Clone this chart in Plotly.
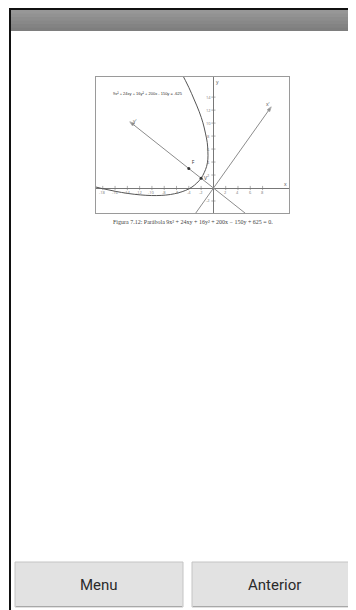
import plotly.graph_objects as go

# the page body has an 8px margin, so the figure is a bit smaller and shifted
OFF = 8
W, H = 356 - OFF, 610 - OFF

# parabola 9x^2 + 24xy + 16y^2 + 200x - 150y + 625 = 0
curve_x = [-20.7, -18.3, -16.0, -13.9, -11.9, -10.1, -8.5, -7.0, -5.7, -4.5, -3.5, -2.7,
           -2.0, -1.5, -1.1, -0.9, -0.9, -1.0, -1.3, -1.7, -2.3, -3.1, -4.0, -5.1, -6.3]
curve_y = [0.54, -0.04, -0.5, -0.84, -1.06, -1.16, -1.14, -1.0, -0.74, -0.36, 0.14, 0.76,
           1.5, 2.36, 3.34, 4.44, 5.66, 7.0, 8.46, 10.04, 11.74, 13.56, 15.5, 17.56, 19.74]

# rotated axes x' and y'
xprime_x = [-2.9, 9.4]
xprime_y = [-3.9, 12.5]
yprime_x = [5.2, -13.6]
yprime_y = [-3.9, 10.2]

# marked points: focus and vertex
pt_names = ["F", "V"]
pt_x = [-4.0, -2.0]
pt_y = [3.0, 1.5]

x_ticks = [-18, -16, -14, -12, -10, -8, -6, -4, -2, 2, 4, 6, 8]
y_ticks = [-2, 2, 4, 6, 8, 10, 12, 14]

equation = "9x² + 24xy + 16y² + 200x - 150y = -625"
caption = "Figura 7.12: Parábola 9x² + 24xy + 16y² + 200x − 150y + 625 = 0."
buttons = ["Menu", "Anterior"]


def px(x):
    # screen pixel -> paper x
    return (x - OFF) / W


def py(y):
    # screen pixel -> paper y
    return 1 - (y - OFF) / H


fig = go.Figure()

# rotated axes with arrow heads
for lx, ly in [(xprime_x, xprime_y), (yprime_x, yprime_y)]:
    fig.add_trace(go.Scatter(
        x=lx, y=ly, mode="lines+markers",
        line=dict(color="#8c8c8c", width=1),
        marker=dict(symbol="arrow", angleref="previous", size=[0, 5], color="#555"),
        hoverinfo="skip"
    ))

# parabola
fig.add_trace(go.Scatter(
    x=curve_x, y=curve_y, mode="lines",
    line=dict(color="#555", width=1, shape="spline"),
    hoverinfo="skip"
))

# tick marks along the axes
fig.add_trace(go.Scatter(
    x=x_ticks, y=[0] * len(x_ticks), mode="markers",
    marker=dict(symbol="line-ns", size=3, line=dict(color="#777", width=0.6)),
    hoverinfo="skip"
))
fig.add_trace(go.Scatter(
    x=[0] * len(y_ticks), y=y_ticks, mode="markers",
    marker=dict(symbol="line-ew", size=3, line=dict(color="#777", width=0.6)),
    hoverinfo="skip"
))

# focus / vertex points
fig.add_trace(go.Scatter(
    x=pt_x, y=pt_y, mode="markers+text", text=pt_names,
    textposition=["top right", "middle right"], textfont=dict(size=5, color="#333"),
    marker=dict(size=3, color="#333"),
    hoverinfo="skip"
))

annotations = []
for t in x_ticks:
    annotations.append(dict(x=t, y=0, text=str(t), showarrow=False, yshift=-4,
                            font=dict(size=4, color="#777")))
for t in y_ticks:
    annotations.append(dict(x=0, y=t, text=str(t), showarrow=False, xshift=-5,
                            font=dict(size=4, color="#777")))
annotations += [
    dict(x=11.7, y=0, text="x", showarrow=False, yshift=4, font=dict(size=5, color="#555")),
    dict(x=0, y=16.3, text="y", showarrow=False, xshift=4, font=dict(size=5, color="#555")),
    dict(x=xprime_x[-1], y=xprime_y[-1], text="x'", showarrow=False, xshift=-3, yshift=3,
         font=dict(size=5, color="#555")),
    dict(x=yprime_x[-1], y=yprime_y[-1], text="y'", showarrow=False, xshift=5, yshift=1,
         font=dict(size=5, color="#555")),
    dict(x=-10.7, y=14.5, text=equation, showarrow=False,
         font=dict(size=4, color="#333", family="Liberation Sans")),
    dict(x=px(193), y=py(222), xref="paper", yref="paper", text=caption, showarrow=False,
         xanchor="center", yanchor="middle",
         font=dict(size=6, color="#444", family="Liberation Serif")),
]

shapes = []
# title bar: darker base, lighter bands stacked from the top
bar_cols = ["#7e7e7e", "#838383", "#888888", "#8d8d8d", "#929292", "#979797"]
top, bottom = 10, 31
n = len(bar_cols)
for i, c in enumerate(bar_cols):
    y_end = bottom - (bottom - top) * i / n
    shapes.append(dict(type="rect", xref="paper", yref="paper", layer="below",
                       x0=px(10), x1=px(356), y0=py(y_end), y1=py(top),
                       fillcolor=c, line=dict(width=0)))
shapes.append(dict(type="line", xref="paper", yref="paper",
                   x0=px(9), x1=px(356), y0=py(9), y1=py(9),
                   line=dict(color="#111", width=2)))
shapes.append(dict(type="line", xref="paper", yref="paper",
                   x0=px(10), x1=px(10), y0=py(8), y1=py(610),
                   line=dict(color="#111", width=2)))

# buttons
btn_x = [(15, 183), (192, 362)]
btn_cx = [99, 274]
for (x0, x1), cx, label in zip(btn_x, btn_cx, buttons):
    shapes.append(dict(type="rect", xref="paper", yref="paper", layer="below",
                       x0=px(x0), x1=px(x1), y0=py(607), y1=py(562),
                       fillcolor="#e2e2e2", line=dict(color="#c4c4c4", width=1)))
    shapes.append(dict(type="line", xref="paper", yref="paper",
                       x0=px(x0 + 1), x1=px(x1 - 1), y0=py(606.5), y1=py(606.5),
                       line=dict(color="#a8a8a8", width=1)))
    annotations.append(dict(x=px(cx), y=py(585), xref="paper", yref="paper", text=label,
                            showarrow=False, xanchor="center", yanchor="middle",
                            font=dict(size=15, color="#2a2a2a", family="Roboto")))

fig.update_layout(
    width=W, height=H,
    margin=dict(l=0, r=0, t=0, b=0),
    paper_bgcolor="white", plot_bgcolor="white",
    showlegend=False,
    annotations=annotations,
    shapes=shapes,
    xaxis=dict(domain=[px(96), px(289)], range=[-19.1, 12.3],
               showgrid=False, showticklabels=False, ticks="",
               zeroline=True, zerolinecolor="#777", zerolinewidth=0.8,
               showline=True, mirror=True, linecolor="#9a9a9a", linewidth=1),
    yaxis=dict(domain=[py(213), py(77)], range=[-3.85, 17.1],
               showgrid=False, showticklabels=False, ticks="",
               zeroline=True, zerolinecolor="#777", zerolinewidth=0.8,
               showline=True, mirror=True, linecolor="#9a9a9a", linewidth=1),
)

fig.write_html("out.html")
